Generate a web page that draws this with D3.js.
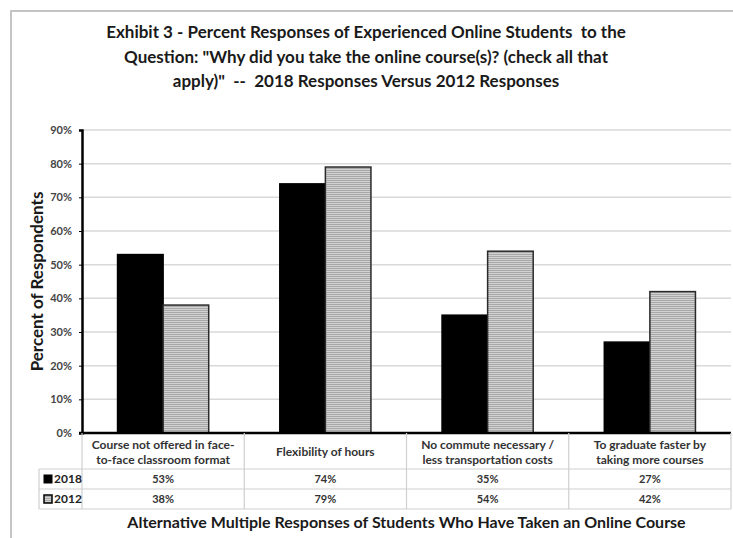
<!DOCTYPE html>
<html>
<head>
<meta charset="utf-8">
<script src="https://cdn.jsdelivr.net/npm/d3@7"></script>
<style>
  body { margin: 0; background: #fff; }
  text { font-family: Lato, "Open Sans", sans-serif; white-space: pre; }
</style>
</head>
<body>
<div id="chart"></div>
<script>
var categories = [
    ["Course not offered in face-", "to-face classroom format"],
    ["Flexibility of hours"],
    ["No commute necessary /", "less transportation costs"],
    ["To graduate faster by", "taking more courses"]
];
var years = ["2018", "2012"];
var values2018 = [53, 74, 35, 27];
var values2012 = [38, 79, 54, 42];
var yTicks = [0, 10, 20, 30, 40, 50, 60, 70, 80, 90];
var titleLines = [
    "Exhibit 3 - Percent Responses of Experienced Online Students  to the",
    "Question: \"Why did you take the online course(s)? (check all that",
    "apply)\"  --  2018 Responses Versus 2012 Responses"
];
var yTitle = "Percent of Respondents";
var xTitle = "Alternative Multiple Responses of Students Who Have Taken an Online Course";

var W = 733, H = 538;
var plot = { left: 82, right: 731, top: 130, bottom: 433 };

var svg = d3.select("#chart").append("svg")
    .attr("width", W).attr("height", H);

// hatch pattern for the 2012 bars
var defs = svg.append("defs");
var pat = defs.append("pattern").attr("id", "hatch")
    .attr("patternUnits", "userSpaceOnUse").attr("width", 4).attr("height", 2);
pat.append("rect").attr("width", 4).attr("height", 2).attr("fill", "#d2d2d2");
pat.append("rect").attr("width", 4).attr("height", 1).attr("fill", "#a8a8a8");

// outer frame
svg.append("rect").attr("x", 11).attr("y", 11).attr("width", W).attr("height", H)
    .attr("fill", "none").attr("stroke", "#c4c4c4").attr("stroke-width", 2);

// title
svg.selectAll(".title").data(titleLines).enter().append("text")
    .attr("class", "title")
    .attr("x", 366).attr("y", function (d, i) { return 38 + i * 24.5 })
    .attr("text-anchor", "middle")
    .style("font-size", "17px").style("font-weight", "bold").attr("fill", "#1a1a1a")
    .text(function (d) { return d });

var x = d3.scaleBand().domain(d3.range(categories.length)).range([plot.left, plot.right]);
var x1 = d3.scaleBand().domain(years).range([0, x.bandwidth()]).paddingOuter(0.78);
var y = d3.scaleLinear().domain([0, 90]).range([plot.bottom, plot.top]);

// gridlines
svg.append("g").selectAll("line").data(yTicks.slice(1)).enter().append("line")
    .attr("x1", plot.left).attr("x2", plot.right)
    .attr("y1", function (d) { return y(d) }).attr("y2", function (d) { return y(d) })
    .attr("stroke", "#d9d9d9").attr("stroke-width", 1.5);

// y axis
var yAxis = svg.append("g").attr("transform", "translate(" + plot.left + ",0)")
    .call(d3.axisLeft(y).tickValues(yTicks).tickSize(3).tickPadding(7)
        .tickFormat(function (d) { return d + "%" }));
yAxis.select(".domain").attr("stroke", "#000").attr("stroke-width", 2.5);
yAxis.selectAll(".tick line").attr("stroke", "#000");
yAxis.selectAll(".tick text").style("font-size", "11px").style("font-weight", "bold")
    .attr("fill", "#444").style("font-family", "Lato, sans-serif");

svg.append("text")
    .attr("transform", "translate(43," + ((plot.top + plot.bottom) / 2) + ") rotate(-90)")
    .attr("text-anchor", "middle")
    .style("font-size", "17px").style("font-weight", "bold").attr("fill", "#1a1a1a")
    .text(yTitle);

// bars
var rows = categories.map(function (c, i) {
    return { i: i, vals: [{ year: "2018", v: values2018[i] }, { year: "2012", v: values2012[i] }] };
});
var groups = svg.selectAll(".grp").data(rows).enter().append("g")
    .attr("transform", function (d) { return "translate(" + x(d.i) + ",0)" });
groups.selectAll("rect").data(function (d) { return d.vals }).enter().append("rect")
    .attr("x", function (d) { return x1(d.year) })
    .attr("width", x1.bandwidth())
    .attr("y", function (d) { return y(d.v) })
    .attr("height", function (d) { return y(0) - y(d.v) })
    .attr("fill", function (d) { return d.year === "2018" ? "#000" : "url(#hatch)" })
    .attr("stroke", function (d) { return d.year === "2018" ? "#000" : "#2a2a2a" })
    .attr("stroke-width", 1.5);

// x axis line
svg.append("line").attr("x1", plot.left - 3).attr("x2", plot.right)
    .attr("y1", y(0)).attr("y2", y(0)).attr("stroke", "#000").attr("stroke-width", 2.5);

// data table
var tbl = { head: 469, row1: 489, row2: 509, legendLeft: 39 };
var grid = svg.append("g").attr("stroke", "#cfcfcf").attr("stroke-width", 1.2);
x.domain().forEach(function (i) {
    grid.append("line").attr("x1", x(i)).attr("x2", x(i)).attr("y1", y(0)).attr("y2", tbl.row2);
});
grid.append("line").attr("x1", plot.right).attr("x2", plot.right).attr("y1", y(0)).attr("y2", tbl.row2);
grid.append("line").attr("x1", tbl.legendLeft).attr("x2", tbl.legendLeft).attr("y1", tbl.head).attr("y2", tbl.row2);
[tbl.head, tbl.row1, tbl.row2].forEach(function (yy) {
    grid.append("line").attr("x1", tbl.legendLeft).attr("x2", plot.right).attr("y1", yy).attr("y2", yy);
});

// category labels
svg.selectAll(".cat").data(categories).enter().append("text")
    .attr("class", "cat")
    .attr("x", function (d, i) { return x(i) + x.bandwidth() / 2 })
    .attr("text-anchor", "middle")
    .style("font-size", "12px").style("font-weight", "bold").attr("fill", "#333")
    .each(function (d) {
        var t = d3.select(this);
        var y0 = d.length === 1 ? 456 : 449;
        d.forEach(function (line, k) {
            t.append("tspan").attr("x", t.attr("x")).attr("y", y0 + k * 15).text(line);
        });
    });

// value cells
var series = [values2018, values2012];
series.forEach(function (vals, r) {
    var cy = (r === 0 ? tbl.head : tbl.row1) + 14;
    svg.selectAll(".val" + r).data(vals).enter().append("text")
        .attr("x", function (d, i) { return x(i) + x.bandwidth() / 2 })
        .attr("y", cy)
        .attr("text-anchor", "middle")
        .style("font-size", "11px").style("font-weight", "bold").attr("fill", "#333")
        .text(function (d) { return d + "%" });
    // legend key
    var ky = (r === 0 ? tbl.head : tbl.row1) + 6;
    svg.append("rect").attr("x", 44).attr("y", ky).attr("width", 8).attr("height", 8)
        .attr("fill", r === 0 ? "#000" : "url(#hatch)")
        .attr("stroke", "#000").attr("stroke-width", r === 0 ? 1 : 1.5);
    svg.append("text").attr("x", 54).attr("y", cy)
        .style("font-size", "12px").style("font-weight", "bold").attr("fill", "#222")
        .text(years[r]);
});

svg.append("text")
    .attr("x", (plot.left + plot.right) / 2).attr("y", 528)
    .attr("text-anchor", "middle")
    .style("font-size", "16px").style("font-weight", "bold").attr("fill", "#1a1a1a")
    .text(xTitle);
</script>
</body>
</html>
